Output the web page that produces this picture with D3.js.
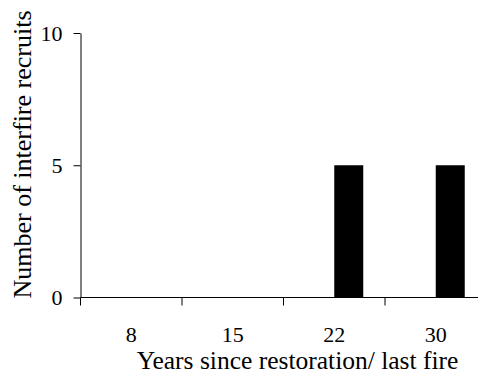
<!DOCTYPE html>
<html>
<head>
<meta charset="utf-8">
<script src="https://cdn.jsdelivr.net/npm/d3@7"></script>
<style>
  html, body { margin: 0; padding: 0; background: #fff; }
  svg { display: block; }
  svg text { font-family: "Liberation Serif", "Times New Roman", serif; fill: #000; }
</style>
</head>
<body>
<svg id="chart" width="478" height="374"></svg>
<script>
// Years since restoration / last fire
const categories = ["8", "15", "22", "30"];
// Two series per category; the first has no recruits at any site age
const seriesNames = ["unburned", "burned"];
const seriesA = [0, 0, 0, 0];
const seriesB = [0, 0, 5, 5];
const yTicks = [0, 5, 10];

const svg = d3.select("#chart");
const plotLeft = 80.5, plotBottom = 297.5, plotTop = 33;
const bandStep = 101.5;

const x = d3.scaleBand()
  .domain(categories)
  .range([plotLeft, plotLeft + bandStep * categories.length])
  .paddingInner(0).paddingOuter(0);

const xInner = d3.scaleBand()
  .domain(seriesNames)
  .range([0, x.bandwidth()])
  .paddingInner(0).paddingOuter(0.75);

const y = d3.scaleLinear().domain([0, 10]).range([plotBottom, plotTop]);

const rows = categories.map((c, i) => ({ cat: c, values: [seriesA[i], seriesB[i]] }));

// bars
const groups = svg.append("g").selectAll("g")
  .data(rows).join("g")
  .attr("transform", d => `translate(${x(d.cat)},0)`);

groups.selectAll("rect")
  .data(d => d.values.map((v, j) => ({ key: seriesNames[j], v })))
  .join("rect")
  .attr("x", d => xInner(d.key))
  .attr("width", xInner.bandwidth())
  .attr("y", d => y(d.v))
  .attr("height", d => plotBottom - y(d.v))
  .attr("fill", "#000");

// y axis
const yAxis = svg.append("g")
  .attr("transform", `translate(${plotLeft},0)`)
  .call(d3.axisLeft(y).tickValues(yTicks).tickFormat(d3.format("d"))
    .tickSizeInner(7).tickSizeOuter(0).tickPadding(11));
yAxis.select(".domain").attr("stroke", "#000").attr("stroke-width", 1);
yAxis.selectAll(".tick line").attr("stroke", "#000");
yAxis.selectAll("text").style("font-size", "22px");

// x axis: ticks between categories
const xAxisG = svg.append("g").attr("transform", `translate(0,${plotBottom})`);
xAxisG.append("line")
  .attr("x1", plotLeft).attr("x2", x.range()[1])
  .attr("stroke", "#000");
const boundaries = categories.map(c => x(c)).concat([x.range()[1]]);
xAxisG.selectAll("line.tk").data(boundaries).join("line")
  .attr("class", "tk")
  .attr("x1", d => d).attr("x2", d => d)
  .attr("y1", 0).attr("y2", 8)
  .attr("stroke", "#000");
xAxisG.selectAll("text").data(categories).join("text")
  .attr("x", d => x(d) + x.bandwidth() / 2)
  .attr("y", 44)
  .attr("text-anchor", "middle")
  .style("font-size", "22px")
  .text(d => d);

// axis titles
svg.append("text")
  .attr("x", 297.5).attr("y", 369)
  .attr("text-anchor", "middle")
  .style("font-size", "25.5px")
  .text("Years since restoration/ last fire");

svg.append("text")
  .attr("transform", "translate(31,154.5) rotate(-90)")
  .attr("text-anchor", "middle")
  .style("font-size", "26px")
  .text("Number of interfire recruits");
</script>
</body>
</html>
